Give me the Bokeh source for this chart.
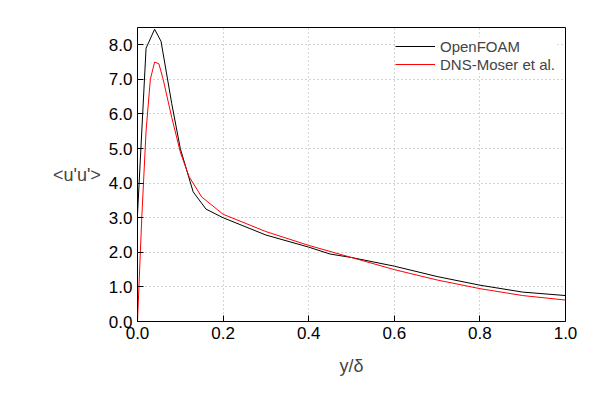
from bokeh.plotting import figure
from bokeh.embed import file_html
from bokeh.resources import INLINE
from bokeh.models import FixedTicker, NumeralTickFormatter, Range1d, Legend, LegendItem

of_x = [0.0, 0.02, 0.04, 0.055, 0.08, 0.1, 0.13, 0.16, 0.2, 0.3, 0.4, 0.45, 0.5, 0.6, 0.7, 0.8, 0.9, 1.0]
of_y = [3.1, 7.9, 8.45, 8.1, 6.3, 5.0, 3.75, 3.25, 3.0, 2.5, 2.15, 1.95, 1.85, 1.6, 1.3, 1.05, 0.85, 0.75]
dns_x = [0.0, 0.01, 0.02, 0.03, 0.04, 0.05, 0.06, 0.08, 0.1, 0.12, 0.15, 0.2, 0.3, 0.4, 0.5, 0.6, 0.7, 0.8, 0.9, 1.0]
dns_y = [0.0, 3.0, 5.5, 7.0, 7.5, 7.45, 7.0, 5.9, 4.9, 4.2, 3.6, 3.1, 2.6, 2.2, 1.85, 1.5, 1.2, 0.95, 0.75, 0.62]
xticks = [0.0, 0.2, 0.4, 0.6, 0.8, 1.0]
yticks = [0.0, 1.0, 2.0, 3.0, 4.0, 5.0, 6.0, 7.0, 8.0]

p = figure(width=584, height=384, output_backend="svg", toolbar_location=None,
           x_range=Range1d(0, 1), y_range=Range1d(0, 8.5),
           min_border_left=137, min_border_right=19, min_border_top=27, min_border_bottom=63)
p.outline_line_color = "black"
p.outline_line_width = 1
p.background_fill_color = "white"
p.border_fill_color = "white"

l1 = p.line(of_x, of_y, line_color="black", line_width=1)
l2 = p.line(dns_x, dns_y, line_color="red", line_width=1)

for ax in (p.xaxis[0], p.yaxis[0]):
    ax.major_tick_in = 6
    ax.major_tick_out = 0
    ax.minor_tick_in = 0
    ax.minor_tick_out = 0
    ax.axis_line_color = None
    ax.major_label_text_font = "Liberation Sans"
    ax.major_label_text_font_size = "17px"
    ax.major_label_text_color = "black"
    ax.axis_label_text_font = "Liberation Sans"
    ax.axis_label_text_font_size = "18px"
    ax.axis_label_text_font_style = "normal"
p.xaxis.ticker = FixedTicker(ticks=xticks)
p.yaxis.ticker = FixedTicker(ticks=yticks)
p.xaxis.formatter = NumeralTickFormatter(format="0.0")
p.yaxis.formatter = NumeralTickFormatter(format="0.0")
p.xaxis.axis_label = "y/δ"
p.xaxis.axis_label_standoff = 14
p.yaxis.axis_label = "<u'u'>"
p.yaxis.axis_label_orientation = "horizontal"
p.yaxis.axis_label_standoff = 5

p.grid.grid_line_color = "#aaaaaa"
p.grid.grid_line_dash = "1 3"
p.xgrid.ticker = FixedTicker(ticks=xticks)
p.ygrid.ticker = FixedTicker(ticks=yticks)

leg = Legend(items=[LegendItem(label="OpenFOAM", renderers=[l1]),
                    LegendItem(label="DNS-Moser et al.", renderers=[l2])],
             location="top_right", border_line_color=None, background_fill_alpha=1,
             label_text_font="Liberation Sans", label_text_font_size="15px",
             glyph_width=40, spacing=0, padding=6, label_height=18, glyph_height=18)
p.add_layout(leg)

open("out.html", "w").write(file_html(p, INLINE))
